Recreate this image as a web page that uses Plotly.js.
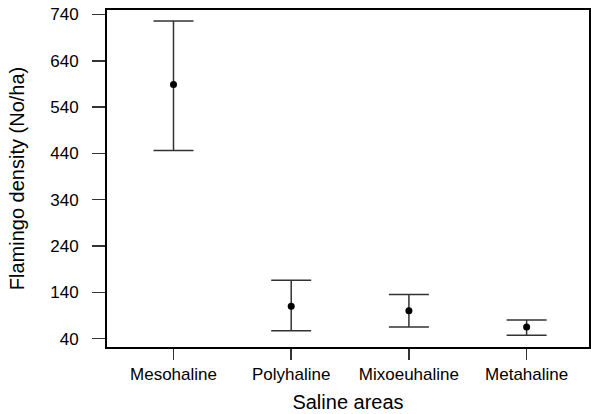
<!DOCTYPE html>
<html>
<head>
<meta charset="utf-8">
<script src="https://cdn.plot.ly/plotly-3.0.1.min.js"></script>
<style>html,body{margin:0;padding:0;background:#fff;}#chart{width:591px;height:414px;}</style>
</head>
<body>
<div id="chart"></div>
<script>
const categories = ["Mesohaline", "Polyhaline", "Mixoeuhaline", "Metahaline"];
const meanDensity = [589, 110, 100, 65];
const upperLimit = [726, 166, 135, 80];
const lowerLimit = [446, 57, 65, 47];
const yTickValues = [40, 140, 240, 340, 440, 540, 640, 740];

const xIdx = categories.map((c, i) => i);
const trace = {
  type: 'scatter',
  mode: 'markers',
  x: xIdx,
  y: meanDensity,
  marker: {color: '#000', size: 7},
  error_y: {
    type: 'data',
    symmetric: false,
    array: upperLimit.map((u, i) => u - meanDensity[i]),
    arrayminus: lowerLimit.map((l, i) => meanDensity[i] - l),
    color: '#333',
    thickness: 1.5,
    width: 20
  },
  hoverinfo: 'skip'
};

const font = {family: 'Liberation Sans, Arial, sans-serif', color: '#000'};
const layout = {
  width: 591, height: 414,
  margin: {l: 107, r: 2, t: 10, b: 67},
  paper_bgcolor: '#fff', plot_bgcolor: '#fff',
  showlegend: false,
  font: font,
  xaxis: {
    range: [-0.565, 3.53],
    tickvals: xIdx,
    ticktext: categories,
    ticks: 'outside', ticklen: 11, tickwidth: 1.5, tickcolor: '#333',
    showline: true, linewidth: 2, linecolor: '#000', mirror: true,
    showgrid: false, zeroline: false,
    tickfont: {size: 17, family: font.family, color: '#000'},
    title: {text: 'Saline areas', font: {size: 20, family: font.family, color: '#000'}, standoff: 12}
  },
  yaxis: {
    range: [21.8, 749.7],
    tickvals: yTickValues,
    ticktext: yTickValues.map(String),
    ticks: 'outside', ticklen: 13, tickwidth: 1.5, tickcolor: '#333',
    ticklabelstandoff: 10,
    showline: true, linewidth: 2, linecolor: '#000', mirror: true,
    showgrid: false, zeroline: false,
    tickfont: {size: 17, family: font.family, color: '#000'},
    title: {text: 'Flamingo density (No/ha)', font: {size: 20, family: font.family, color: '#000'}, standoff: 20}
  }
};

Plotly.newPlot('chart', [trace], layout, {staticPlot: true, displayModeBar: false});
</script>
</body>
</html>
